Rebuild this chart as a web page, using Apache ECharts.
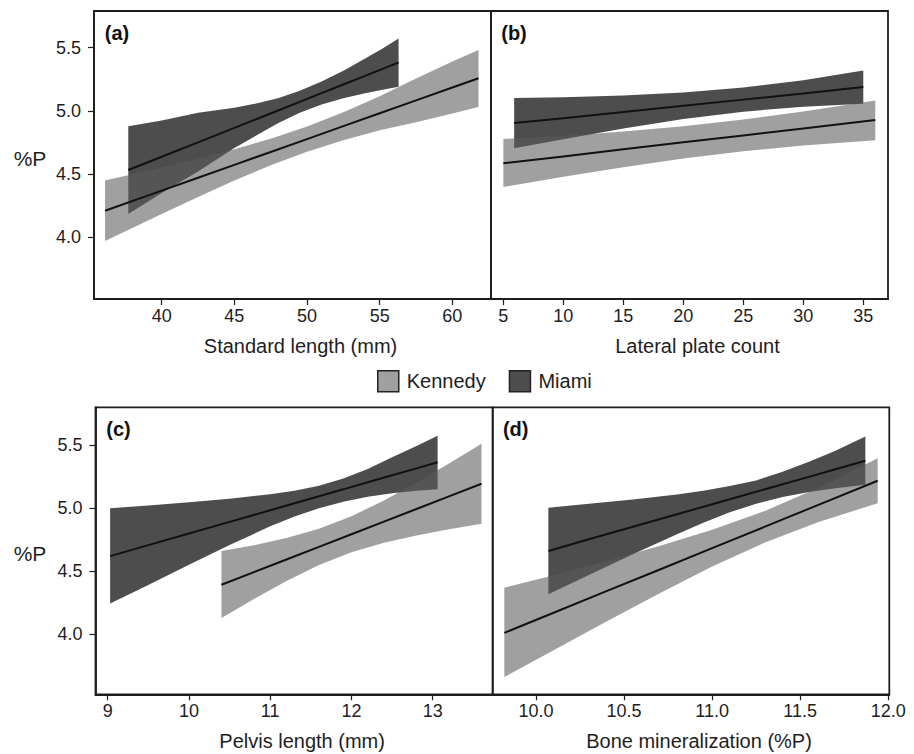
<!DOCTYPE html>
<html>
<head>
<meta charset="utf-8">
<script src="https://cdn.jsdelivr.net/npm/echarts@6/dist/echarts.min.js"></script>
<style>
  html, body { margin: 0; padding: 0; background: #ffffff; }
  #chart { width: 914px; height: 754px; }
</style>
</head>
<body>
<div id="chart"></div>
<script>
// ---------- tick labels ----------
const yTicks = [4.0, 4.5, 5.0, 5.5];
const aTicks = [40, 45, 50, 55, 60];
const bTicks = [5, 10, 15, 20, 25, 30, 35];
const cTicks = [9, 10, 11, 12, 13];
const dTicks = [10.0, 10.5, 11.0, 11.5, 12.0];

const groups = ['Kennedy', 'Miami'];
const panelLabels = ['(a)', '(b)', '(c)', '(d)'];
const xNames = ['Standard length (mm)', 'Lateral plate count', 'Pelvis length (mm)', 'Bone mineralization (%P)'];

// ---------- (a) Standard length ----------
const aKenX   = [36.1, 40, 42.5, 45, 47.5, 50, 52.5, 55, 57.5, 60, 61.8];
const aKenLo  = [3.970, 4.185, 4.319, 4.449, 4.570, 4.677, 4.768, 4.847, 4.910, 4.980, 5.030];
const aKenHi  = [4.450, 4.553, 4.622, 4.697, 4.780, 4.877, 4.990, 5.115, 5.256, 5.390, 5.482];
const aKenFit = [4.210, 4.369, 4.471, 4.573, 4.675, 4.777, 4.879, 4.981, 5.083, 5.185, 5.258];
const aMiaX   = [37.7, 40, 42.5, 45, 46.5, 48, 49.5, 51, 52.5, 54, 55.2, 56.3];
const aMiaLo  = [4.185, 4.351, 4.520, 4.707, 4.805, 4.903, 4.985, 5.050, 5.100, 5.140, 5.168, 5.190];
const aMiaHi  = [4.879, 4.923, 4.985, 5.025, 5.058, 5.100, 5.160, 5.232, 5.318, 5.415, 5.494, 5.572];
const aMiaFit = [4.532, 4.637, 4.751, 4.866, 4.934, 5.003, 5.071, 5.140, 5.209, 5.277, 5.332, 5.383];

// ---------- (b) Lateral plate count ----------
const bKenX   = [5, 10, 15, 20, 25, 30, 36];
const bKenLo  = [4.398, 4.478, 4.555, 4.623, 4.681, 4.726, 4.767];
const bKenHi  = [4.778, 4.802, 4.837, 4.879, 4.932, 4.996, 5.083];
const bKenFit = [4.585, 4.640, 4.696, 4.751, 4.806, 4.861, 4.928];
const bMiaX   = [5.9, 10, 15, 20, 25, 30, 35];
const bMiaLo  = [4.705, 4.776, 4.860, 4.935, 4.994, 5.033, 5.057];
const bMiaHi  = [5.102, 5.108, 5.122, 5.145, 5.184, 5.243, 5.320];
const bMiaFit = [4.904, 4.942, 4.991, 5.040, 5.089, 5.138, 5.189];

// ---------- (c) Pelvis length ----------
const cKenX   = [10.4, 10.8, 11.2, 11.6, 12.0, 12.4, 12.8, 13.2, 13.6];
const cKenLo  = [4.129, 4.280, 4.423, 4.549, 4.650, 4.725, 4.783, 4.832, 4.877];
const cKenHi  = [4.660, 4.706, 4.763, 4.837, 4.936, 5.061, 5.204, 5.354, 5.510];
const cKenFit = [4.393, 4.493, 4.593, 4.693, 4.793, 4.893, 4.993, 5.093, 5.193];
const cMiaX   = [9.03, 9.5, 10, 10.5, 11, 11.3, 11.6, 11.9, 12.2, 12.5, 12.8, 13.06];
const cMiaLo  = [4.244, 4.392, 4.551, 4.707, 4.856, 4.934, 5.000, 5.050, 5.090, 5.117, 5.137, 5.150];
const cMiaHi  = [5.000, 5.021, 5.047, 5.075, 5.110, 5.138, 5.178, 5.235, 5.310, 5.403, 5.492, 5.574];
const cMiaFit = [4.620, 4.707, 4.799, 4.891, 4.983, 5.039, 5.094, 5.149, 5.205, 5.260, 5.315, 5.363];

// ---------- (d) Bone mineralization ----------
const dKenX   = [9.82, 10.1, 10.4, 10.7, 11.0, 11.3, 11.6, 11.94];
const dKenLo  = [3.662, 3.874, 4.102, 4.324, 4.537, 4.728, 4.888, 5.039];
const dKenHi  = [4.370, 4.468, 4.582, 4.700, 4.829, 4.978, 5.160, 5.395];
const dKenFit = [4.012, 4.171, 4.342, 4.512, 4.683, 4.853, 5.024, 5.217];
const dMiaX   = [10.07, 10.3, 10.55, 10.8, 10.95, 11.1, 11.25, 11.4, 11.55, 11.7, 11.87];
const dMiaLo  = [4.317, 4.471, 4.635, 4.794, 4.885, 4.967, 5.035, 5.088, 5.128, 5.158, 5.185];
const dMiaHi  = [5.004, 5.034, 5.069, 5.108, 5.138, 5.175, 5.220, 5.288, 5.368, 5.455, 5.567];
const dMiaFit = [4.660, 4.753, 4.852, 4.951, 5.011, 5.070, 5.130, 5.189, 5.248, 5.308, 5.376];

// ---------- layout / style ----------
const FONT = "'Liberation Sans', Arial, Helvetica, sans-serif";
const INK = '#1e1e1e';
const MIAMI_FILL = '#4d4d4d';
const KENNEDY_FILL = 'rgba(92,92,92,0.58)';
const KENNEDY_LEGEND = '#a0a0a0';

const panels = [
  { grid: { left: 94,    top: 11,    width: 397,   height: 288 }, xMin: 35.34, xMax: 62.66, yMin: 3.512, yMax: 5.790, ticks: aTicks, dec: 0, showY: true,
    ken: [aKenX, aKenLo, aKenHi, aKenFit], mia: [aMiaX, aMiaLo, aMiaHi, aMiaFit] },
  { grid: { left: 491,   top: 11,    width: 397,   height: 288 }, xMin: 3.97,  xMax: 37.06, yMin: 3.512, yMax: 5.790, ticks: bTicks, dec: 0, showY: false,
    ken: [bKenX, bKenLo, bKenHi, bKenFit], mia: [bMiaX, bMiaLo, bMiaHi, bMiaFit] },
  { grid: { left: 95.5,  top: 407.3, width: 397.2, height: 287 }, xMin: 8.85,  xMax: 13.738, yMin: 3.525, yMax: 5.799, ticks: cTicks, dec: 0, showY: true,
    ken: [cKenX, cKenLo, cKenHi, cKenFit], mia: [cMiaX, cMiaLo, cMiaHi, cMiaFit] },
  { grid: { left: 492.7, top: 407.3, width: 396.6, height: 287 }, xMin: 9.754, xMax: 12.006, yMin: 3.525, yMax: 5.799, ticks: dTicks, dec: 1, showY: false,
    ken: [dKenX, dKenLo, dKenHi, dKenFit], mia: [dMiaX, dMiaLo, dMiaHi, dMiaFit] }
];

function bandSeries(name, idx, band, fill, z) {
  const [xs, lo, hi] = band;
  return {
    type: 'custom', name: name, xAxisIndex: idx, yAxisIndex: idx, z: z, silent: true,
    data: xs.map((v, k) => [v, lo[k], hi[k]]),
    encode: { x: 0, y: [1, 2] },
    renderItem: function (params, api) {
      if (params.dataIndex !== 0) return null;
      const pts = [];
      for (let k = 0; k < xs.length; k++) pts.push(api.coord([xs[k], hi[k]]));
      for (let k = xs.length - 1; k >= 0; k--) pts.push(api.coord([xs[k], lo[k]]));
      return { type: 'polygon', shape: { points: pts }, style: { fill: fill } };
    }
  };
}
function fitSeries(idx, band) {
  const [xs, , , fit] = band;
  return {
    type: 'line', xAxisIndex: idx, yAxisIndex: idx, z: 10, silent: true,
    data: xs.map((v, k) => [v, fit[k]]),
    symbol: 'none', lineStyle: { color: '#111', width: 2 }
  };
}

const grids = [], xAxes = [], yAxes = [], series = [], graphics = [];
panels.forEach((p, i) => {
  grids.push(Object.assign({ show: true, borderColor: INK, borderWidth: 1.8, backgroundColor: 'transparent' }, p.grid));
  xAxes.push({
    type: 'value', gridIndex: i, min: p.xMin, max: p.xMax,
    name: xNames[i], nameLocation: 'middle', nameGap: 37,
    nameTextStyle: { fontFamily: FONT, fontSize: 20, color: INK, padding: [0, 0, 0, 16] },
    axisLine: { show: true, onZero: false, lineStyle: { color: INK, width: 1.8 } },
    axisTick: { show: true, inside: false, length: 6, customValues: p.ticks, lineStyle: { color: INK, width: 1.2 } },
    axisLabel: { show: true, margin: 8, customValues: p.ticks, fontFamily: FONT, fontSize: 18, color: INK,
                 formatter: (v) => Number(v).toFixed(p.dec) },
    splitLine: { show: false }
  });
  yAxes.push({
    type: 'value', gridIndex: i, min: p.yMin, max: p.yMax,
    axisLine: { show: p.showY, onZero: false, lineStyle: { color: INK, width: 1.8 } },
    axisTick: { show: p.showY, inside: false, length: 6, customValues: yTicks, lineStyle: { color: INK, width: 1.2 } },
    axisLabel: { show: p.showY, margin: 13, customValues: yTicks, fontFamily: FONT, fontSize: 18, color: INK,
                 formatter: (v) => Number(v).toFixed(1) },
    splitLine: { show: false }
  });
  series.push(bandSeries(groups[1], i, p.mia, MIAMI_FILL, 2));
  series.push(bandSeries(groups[0], i, p.ken, KENNEDY_FILL, 3));
  series.push(fitSeries(i, p.mia));
  series.push(fitSeries(i, p.ken));

  graphics.push({
    type: 'text', x: p.grid.left + 23, y: p.grid.top + 22, z: 20,
    style: { text: panelLabels[i], font: 'bold 20px ' + FONT, fill: '#111', align: 'center', verticalAlign: 'middle' }
  });
  if (p.showY) {
    graphics.push({
      type: 'text', x: 30, y: p.grid.top + p.grid.height / 2 + 3, z: 20,
      style: { text: '%P', font: '21px ' + FONT, fill: INK, align: 'center', verticalAlign: 'middle' }
    });
  }
});

const chart = echarts.init(document.getElementById('chart'), null, { renderer: 'svg', width: 914, height: 754 });
chart.setOption({
  animation: false,
  backgroundColor: '#ffffff',
  textStyle: { fontFamily: FONT },
  grid: grids,
  xAxis: xAxes,
  yAxis: yAxes,
  legend: {
    left: 372, top: 365, orient: 'horizontal', selectedMode: false,
    itemWidth: 21, itemHeight: 21, itemGap: 23,
    textStyle: { fontFamily: FONT, fontSize: 20, color: INK, padding: [0, 0, 0, 3] },
    data: [
      { name: groups[0], icon: 'rect', itemStyle: { color: KENNEDY_LEGEND, borderColor: '#222', borderWidth: 1.5 } },
      { name: groups[1], icon: 'rect', itemStyle: { color: MIAMI_FILL, borderColor: '#222', borderWidth: 1.5 } }
    ]
  },
  graphic: graphics,
  series: series
});
</script>
</body>
</html>
